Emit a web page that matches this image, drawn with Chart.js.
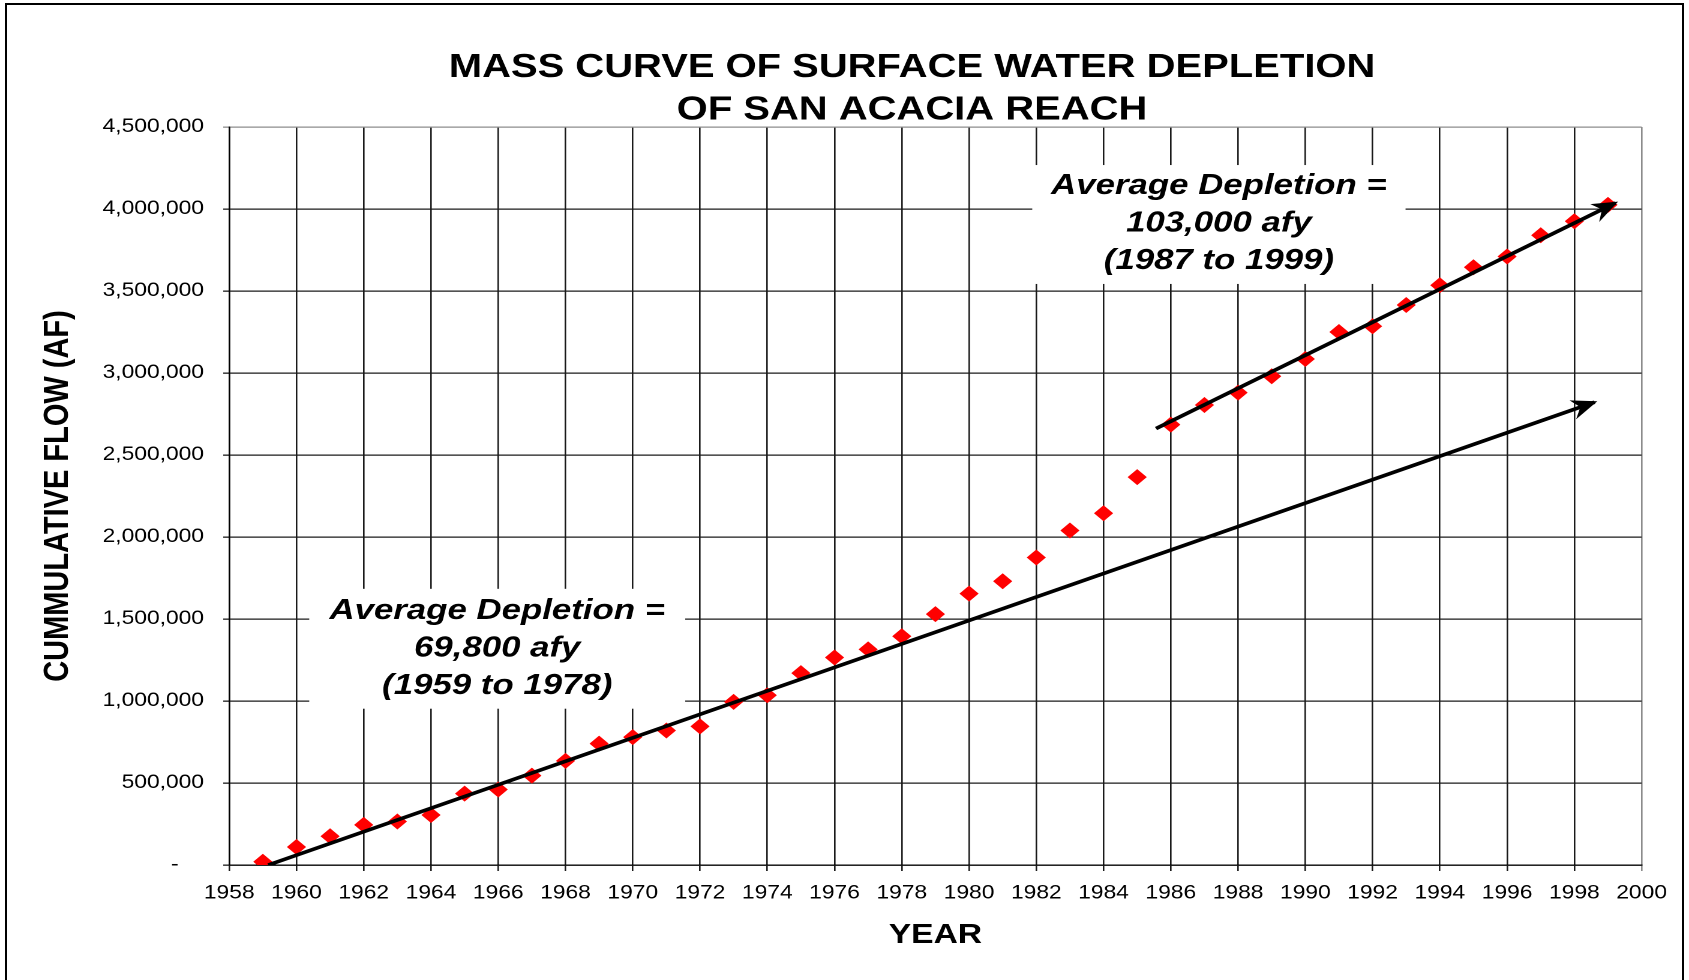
<!DOCTYPE html>
<html>
<head>
<meta charset="utf-8">
<title>Mass curve of surface water depletion</title>
<script src="https://cdn.jsdelivr.net/npm/chart.js@4.4.0/dist/chart.umd.min.js"></script>
<style>
  html, body { margin: 0; padding: 0; background: #fff; overflow: hidden; }
  body { width: 1689px; height: 980px; position: relative; }
  /* the original picture is stretched sideways, so the chart is drawn narrower and widened */
  #stretch { position: absolute; left: 0; top: 0; width: 1408px; height: 980px; transform: scaleX(1.2); transform-origin: 0 0; }
  #frame { position: absolute; left: 5px; top: 3px; width: 1679px; height: 1000px; border: 2px solid #000; box-sizing: border-box; pointer-events: none; }
</style>
</head>
<body>
<div id="stretch"><canvas id="massCurve"></canvas></div>
<div id="frame"></div>
<script>
const years = [1959, 1960, 1961, 1962, 1963, 1964, 1965, 1966, 1967, 1968,
  1969, 1970, 1971, 1972, 1973, 1974, 1975, 1976, 1977, 1978,
  1979, 1980, 1981, 1982, 1983, 1984, 1985, 1986, 1987, 1988,
  1989, 1990, 1991, 1992, 1993, 1994, 1995, 1996, 1997, 1998, 1999];
const cumulativeFlow = [20000, 110000, 175000, 245000, 265000, 305000, 435000, 460000, 545000, 635000,
  740000, 780000, 820000, 845000, 995000, 1035000, 1170000, 1265000, 1315000, 1395000,
  1530000, 1655000, 1730000, 1875000, 2040000, 2145000, 2365000, 2685000, 2805000, 2880000,
  2980000, 3085000, 3250000, 3285000, 3415000, 3535000, 3645000, 3710000, 3840000, 3925000, 4025000];

// hand-drawn trend arrows (start, tip)
const earlyTrendYears = [1959.16, 1998.6];
const earlyTrendFlow = [0, 2822000];
const lateTrendYears = [1985.56, 1999.22];
const lateTrendFlow = [2661000, 4037000];

const titleLines = ['MASS CURVE OF SURFACE WATER DEPLETION', 'OF SAN ACACIA REACH'];
const earlyNote = ['Average Depletion =', '69,800 afy', '(1959 to 1978)'];
const lateNote = ['Average Depletion =', '103,000 afy', '(1987 to 1999)'];

const S = 1.2; // sideways stretch, same as the css
const FONT = '"Liberation Sans", Arial, Helvetica, sans-serif';

// note boxes in data units: [yearFrom, yearTo, flowBottom, flowTop], text centre year and middle-line baseline
const notes = [
  { lines: earlyNote, box: [1960.38, 1971.56, 953000, 1684000], at: [1965.97, 1270000] },
  { lines: lateNote, box: [1981.88, 1992.98, 3543000, 4268000], at: [1987.43, 3862000] }
];

function drawArrowHead(ctx, x0, y0, x1, y1) {
  ctx.save();
  ctx.scale(1 / S, 1);
  const ang = Math.atan2(y1 - y0, (x1 - x0) * S);
  ctx.translate(x1 * S, y1);
  ctx.rotate(ang);
  ctx.beginPath();
  ctx.moveTo(3, 0);
  ctx.lineTo(-23, -10);
  ctx.lineTo(-15, 0);
  ctx.lineTo(-23, 10);
  ctx.closePath();
  ctx.fillStyle = '#000';
  ctx.fill();
  ctx.restore();
}

const overlay = {
  id: 'overlay',
  beforeDatasetsDraw(chart) {
    const { ctx, scales: { x, y } } = chart;
    ctx.save();
    ctx.fillStyle = '#fff';
    notes.forEach(n => {
      const l = x.getPixelForValue(n.box[0]);
      const r = x.getPixelForValue(n.box[1]);
      const t = y.getPixelForValue(n.box[3]);
      const b = y.getPixelForValue(n.box[2]);
      ctx.fillRect(l, t, r - l, b - t);
    });
    ctx.restore();
  },
  afterDatasetsDraw(chart) {
    const { ctx, scales: { x, y } } = chart;
    [0, 1].forEach(i => {
      const pts = chart.getDatasetMeta(i).data;
      const a = pts[0], b = pts[pts.length - 1];
      drawArrowHead(ctx, a.x, a.y, b.x, b.y);
    });

    ctx.save();
    ctx.fillStyle = '#000';
    ctx.textAlign = 'center';
    ctx.textBaseline = 'alphabetic';
    ctx.font = 'italic bold 29px ' + FONT;
    notes.forEach(n => {
      const cx = x.getPixelForValue(n.at[0]);
      const cy = y.getPixelForValue(n.at[1]);
      n.lines.forEach((t, k) => ctx.fillText(t, cx, cy + (k - 1) * 37.5));
    });

    ctx.font = 'bold 33.3px ' + FONT;
    titleLines.forEach((t, k) => ctx.fillText(t, 760, 77 + k * 42.5));
    ctx.restore();
  }
};

document.addEventListener('DOMContentLoaded', () => {
  const canvas = document.getElementById('massCurve');
  const toPoints = (xs, ys) => xs.map((v, i) => ({ x: v, y: ys[i] }));

  const tickFont = { family: FONT, size: 19 };

  new Chart(canvas, {
    type: 'scatter',
    data: {
      datasets: [
        {
          data: toPoints(earlyTrendYears, earlyTrendFlow),
          showLine: true,
          borderColor: '#000',
          borderWidth: 3.6,
          pointRadius: 0
        },
        {
          data: toPoints(lateTrendYears, lateTrendFlow),
          showLine: true,
          borderColor: '#000',
          borderWidth: 3.6,
          pointRadius: 0
        },
        {
          data: toPoints(years, cumulativeFlow),
          pointStyle: 'rectRot',
          pointRadius: 8,
          pointBackgroundColor: '#ff0000',
          pointBorderWidth: 0,
          borderWidth: 0
        }
      ]
    },
    options: {
      responsive: true,
      maintainAspectRatio: false,
      devicePixelRatio: 2,
      animation: false,
      layout: { padding: { left: 10, right: 40, top: 127, bottom: 15 } },
      plugins: {
        legend: { display: false },
        tooltip: { enabled: false },
        title: { display: false }
      },
      scales: {
        x: {
          type: 'linear',
          min: 1958,
          max: 2000,
          afterFit: scale => { scale.height = 100; },
          ticks: {
            stepSize: 2,
            padding: 11,
            color: '#000',
            font: tickFont,
            maxRotation: 0,
            autoSkip: false,
            callback: v => String(v)
          },
          grid: {
            color: c => (c.tick && c.tick.value === 2000 ? '#8c8c8c' : '#1a1a1a'),
            lineWidth: 1.3,
            tickLength: 6
          },
          border: { color: '#000', width: 1.3 },
          title: {
            display: true,
            text: 'YEAR',
            color: '#000',
            font: { family: FONT, size: 28, weight: 'bold' },
            padding: { top: 0, bottom: 13 }
          }
        },
        y: {
          min: 0,
          max: 4500000,
          afterFit: scale => { scale.width = 181; },
          ticks: {
            stepSize: 500000,
            padding: 16,
            color: '#000',
            font: tickFont,
            callback: v => (v === 0 ? '-    ' : v.toLocaleString('en-US'))
          },
          grid: {
            color: c => (c.tick && c.tick.value === 4500000 ? '#8c8c8c' : '#1a1a1a'),
            lineWidth: 1.3,
            tickLength: 5
          },
          border: { color: '#000', width: 1.3 },
          title: {
            display: true,
            text: 'CUMMULATIVE FLOW (AF)',
            color: '#000',
            font: { family: FONT, size: 29, weight: 'bold' },
            padding: { top: 21, bottom: 0 }
          }
        }
      }
    },
    plugins: [overlay]
  });
});
</script>
</body>
</html>
